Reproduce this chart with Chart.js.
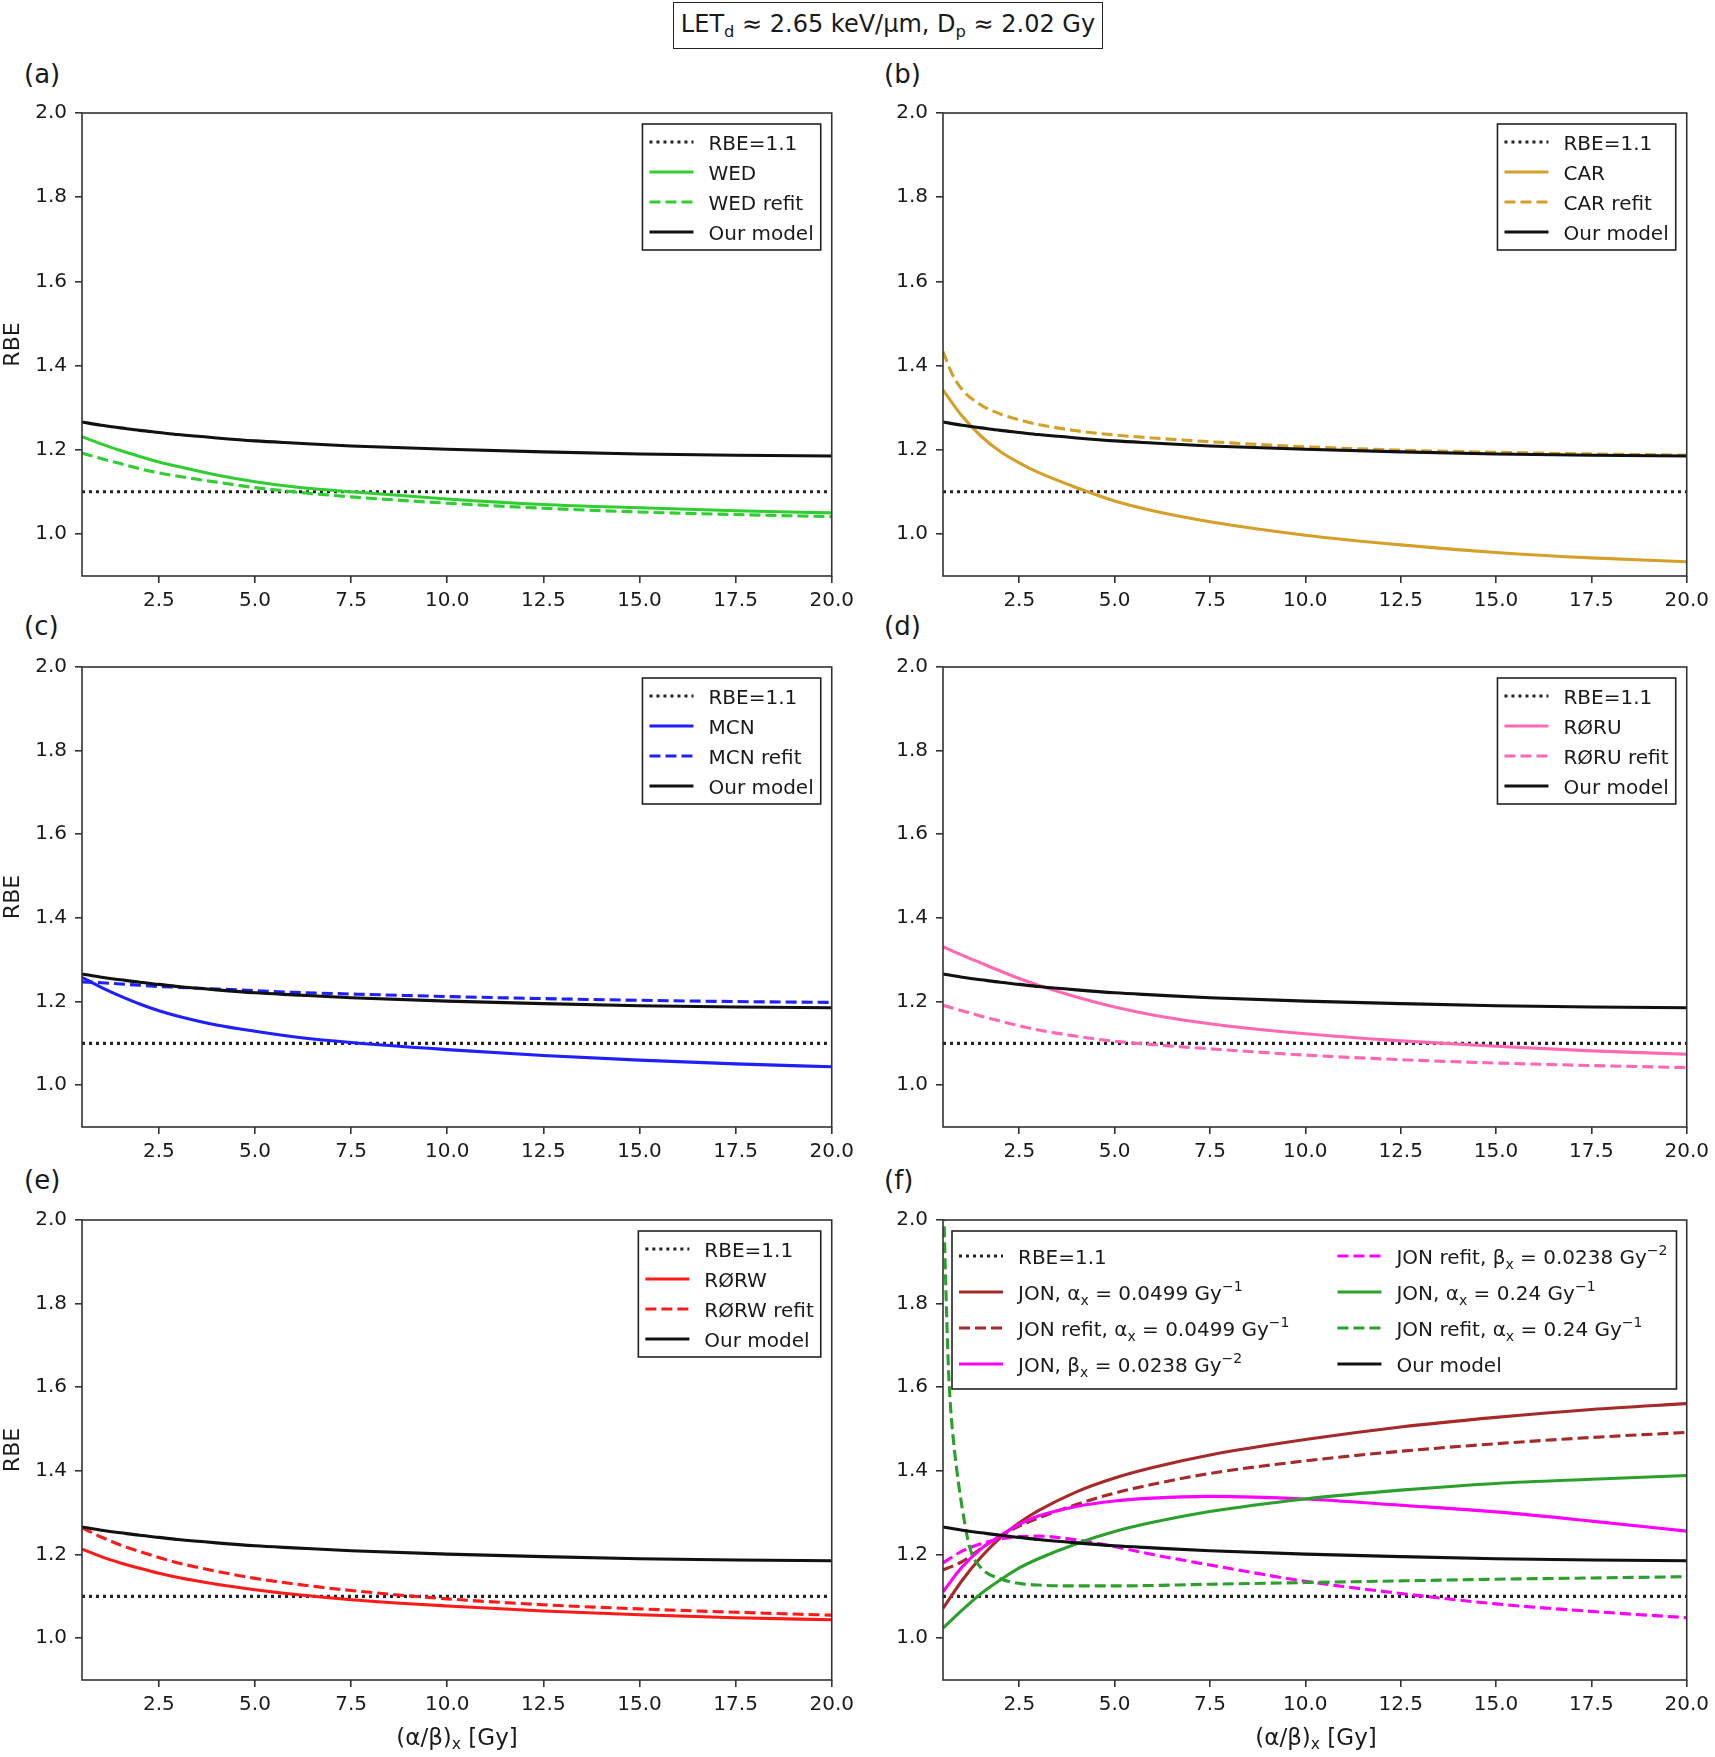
<!DOCTYPE html>
<html>
<head>
<meta charset="utf-8">
<script src="https://cdn.jsdelivr.net/npm/chart.js@4.4.0/dist/chart.umd.min.js"></script>
<style>
  body { margin: 0; background: #fff; width: 1715px; height: 1757px; position: relative; overflow: hidden;
         font-family: 'DejaVu Sans', sans-serif; color: #1a1a1a; }
  canvas { position: absolute; }
  .tag { position: absolute; font-size: 26px; line-height: 30px; }
  .title-box { position: absolute; left: 673px; top: 2px; width: 430px; height: 47px; box-sizing: border-box;
               border: 1.6px solid #222; font-size: 24px; line-height: 43px; text-align: center; white-space: nowrap; }
  .xlabel { position: absolute; top: 1722px; width: 300px; margin-left: -150px; text-align: center; font-size: 23px; line-height: 30px; }
  sub { font-size: 0.68em; vertical-align: -0.28em; line-height: 0; }
</style>
</head>
<body>

<div class="title-box">LET<sub>d</sub> ≈ 2.65 keV/μm, D<sub>p</sub> ≈ 2.02 Gy</div>

<div class="tag" style="left:24px; top:59px">(a)</div>
<div class="tag" style="left:884px; top:59px">(b)</div>
<div class="tag" style="left:24px; top:611px">(c)</div>
<div class="tag" style="left:884px; top:611px">(d)</div>
<div class="tag" style="left:24px; top:1165px">(e)</div>
<div class="tag" style="left:884px; top:1165px">(f)</div>

<canvas id="pa"></canvas>
<canvas id="pb"></canvas>
<canvas id="pc"></canvas>
<canvas id="pd"></canvas>
<canvas id="pe"></canvas>
<canvas id="pf"></canvas>

<div class="xlabel" style="left:457px">(α/β)<sub>x</sub> [Gy]</div>
<div class="xlabel" style="left:1316px">(α/β)<sub>x</sub> [Gy]</div>

<script>
// ---- data ----
const xTicks = [2.5, 5, 7.5, 10, 12.5, 15, 17.5, 20];
const yTicks = [1.0, 1.2, 1.4, 1.6, 1.8, 2.0];

const abX = [0.5, 1, 1.5, 2, 2.5, 3, 4, 5, 6, 7.5, 10, 12.5, 15, 17.5, 20];
const refX = [0.5, 20];
const refY = [1.1, 1.1];

const ourModel   = [1.266, 1.258, 1.252, 1.246, 1.241, 1.236, 1.228, 1.221, 1.216, 1.209, 1.201, 1.195, 1.190, 1.187, 1.185];

const wed        = [1.231, 1.214, 1.198, 1.184, 1.171, 1.160, 1.140, 1.124, 1.112, 1.100, 1.083, 1.070, 1.062, 1.055, 1.050];
const wedRefit   = [1.192, 1.179, 1.167, 1.155, 1.145, 1.137, 1.123, 1.110, 1.100, 1.088, 1.073, 1.061, 1.052, 1.046, 1.041];

const carX       = [0.5, 0.75, 1, 1.5, 2, 2.5, 3, 4, 5, 6, 7.5, 10, 12.5, 15, 17.5, 20];
const car        = [1.342, 1.310, 1.280, 1.232, 1.196, 1.169, 1.146, 1.110, 1.078, 1.055, 1.029, 0.997, 0.974, 0.956, 0.943, 0.934];
const carRefitX  = [0.5, 0.75, 1, 1.5, 2, 2.5, 3, 4, 5, 6, 7.5, 10, 12.5, 15, 17.5, 20];
const carRefit   = [1.433, 1.378, 1.343, 1.306, 1.285, 1.271, 1.260, 1.245, 1.235, 1.228, 1.219, 1.207, 1.199, 1.194, 1.190, 1.187];

const mcn        = [1.258, 1.234, 1.213, 1.194, 1.178, 1.165, 1.144, 1.129, 1.116, 1.102, 1.085, 1.071, 1.060, 1.051, 1.044];
const mcnRefit   = [1.247, 1.245, 1.242, 1.239, 1.236, 1.234, 1.230, 1.226, 1.222, 1.218, 1.212, 1.207, 1.203, 1.200, 1.198];

const roru       = [1.331, 1.311, 1.292, 1.273, 1.255, 1.239, 1.211, 1.187, 1.168, 1.147, 1.123, 1.106, 1.093, 1.082, 1.074];
const roruRefit  = [1.191, 1.178, 1.165, 1.153, 1.142, 1.132, 1.117, 1.105, 1.097, 1.087, 1.072, 1.061, 1.053, 1.047, 1.042];

const rorw       = [1.213, 1.195, 1.180, 1.167, 1.155, 1.145, 1.129, 1.116, 1.105, 1.092, 1.077, 1.065, 1.056, 1.049, 1.044];
const rorwRefit  = [1.264, 1.242, 1.223, 1.207, 1.193, 1.180, 1.160, 1.143, 1.130, 1.114, 1.094, 1.080, 1.070, 1.062, 1.055];

const jonA1      = [1.071, 1.138, 1.194, 1.240, 1.276, 1.305, 1.350, 1.383, 1.408, 1.438, 1.475, 1.505, 1.528, 1.547, 1.561];
const jonA1Refit = [1.163, 1.183, 1.215, 1.245, 1.268, 1.287, 1.320, 1.347, 1.368, 1.394, 1.424, 1.447, 1.465, 1.480, 1.492];
const jonB       = [1.111, 1.170, 1.214, 1.245, 1.272, 1.292, 1.315, 1.328, 1.335, 1.339, 1.333, 1.318, 1.302, 1.280, 1.256];
const jonBRefit  = [1.180, 1.208, 1.226, 1.237, 1.243, 1.244, 1.235, 1.219, 1.200, 1.175, 1.136, 1.107, 1.082, 1.064, 1.049];
const jonA2      = [1.024, 1.067, 1.107, 1.139, 1.168, 1.190, 1.226, 1.255, 1.277, 1.303, 1.333, 1.354, 1.370, 1.380, 1.389];
const jonA2RefitX = [0.5, 0.55, 0.6, 0.65, 0.7, 0.8, 0.9, 1, 1.2, 1.5, 2, 2.5, 3, 4, 5, 7.5, 10, 12.5, 15, 17.5, 20];
const jonA2Refit  = [2.10, 1.92, 1.76, 1.63, 1.55, 1.45, 1.375, 1.313, 1.217, 1.168, 1.142, 1.131, 1.127, 1.125, 1.125, 1.129, 1.133, 1.137, 1.141, 1.144, 1.147];

// ---- styling ----
const FONT_FAMILY = "'DejaVu Sans', sans-serif";
const LW = 3.1;
const DASH = [11, 5];
const DOT = [3, 4];
const AXIS_COLOR = '#333';
const TEXT_COLOR = '#1a1a1a';

function series(label, xs, ys, color, dash) {
  return {
    label: label,
    data: xs.map((x, i) => ({ x: x, y: ys[i] })),
    borderColor: color,
    borderDash: dash || [],
    borderWidth: LW,
    pointRadius: 0,
    fill: false
  };
}
const refLine = () => series('RBE=1.1', refX, refY, '#222', DOT);
const ourLine = () => series('Our model', abX, ourModel, '#111');

// "α_{x}" -> subscript, "Gy^{−1}" -> superscript
function parseRich(s) {
  const parts = [];
  const re = /([_^])\{([^}]*)\}/g;
  let last = 0, m;
  while ((m = re.exec(s))) {
    if (m.index > last) parts.push({ t: s.slice(last, m.index), k: 'n' });
    parts.push({ t: m[2], k: m[1] === '_' ? 'sub' : 'sup' });
    last = re.lastIndex;
  }
  if (last < s.length) parts.push({ t: s.slice(last), k: 'n' });
  return parts;
}
function richWidth(ctx, parts, size) {
  let w = 0;
  parts.forEach(p => {
    ctx.font = (p.k === 'n' ? size : Math.round(size * 0.7)) + 'px ' + FONT_FAMILY;
    w += ctx.measureText(p.t).width;
  });
  return w;
}
function drawRich(ctx, parts, x, y, size) {
  parts.forEach(p => {
    const s = p.k === 'n' ? size : Math.round(size * 0.7);
    ctx.font = s + 'px ' + FONT_FAMILY;
    const dy = p.k === 'sub' ? size * 0.25 : (p.k === 'sup' ? -size * 0.42 : 0);
    ctx.fillText(p.t, x, y + dy);
    x += ctx.measureText(p.t).width;
  });
}

// matplotlib-like framed legend inside the axes
const boxLegend = {
  id: 'boxLegend',
  afterDatasetsDraw(chart, args, opts) {
    const ctx = chart.ctx, area = chart.chartArea;
    const sets = chart.data.datasets;
    const cols = opts.cols || 1;
    const rows = Math.ceil(sets.length / cols);
    const size = 20, pad = 7, handle = 44, hgap = 15, colGap = opts.colGap || 40;
    const colW = [];
    for (let c = 0; c < cols; c++) {
      let w = 0;
      for (let r = 0; r < rows; r++) {
        const d = sets[c * rows + r];
        if (d) w = Math.max(w, richWidth(ctx, parseRich(d.label), size));
      }
      colW.push(w);
    }
    const width = pad * 2 + (opts.padR || 0) + colW.reduce((a, w) => a + handle + hgap + w, 0) + colGap * (cols - 1);
    const height = opts.edge * 2 + (rows - 1) * opts.rowH;
    const left = opts.anchor === 'left' ? area.left + opts.dx : area.right - opts.dx - width;
    const top = area.top + opts.dy;

    ctx.save();
    ctx.fillStyle = 'rgba(255,255,255,0.9)';
    ctx.fillRect(left, top, width, height);
    ctx.strokeStyle = '#222';
    ctx.lineWidth = 1.6;
    ctx.strokeRect(left, top, width, height);

    let cx = left + pad;
    for (let c = 0; c < cols; c++) {
      for (let r = 0; r < rows; r++) {
        const d = sets[c * rows + r];
        if (!d) continue;
        const cy = top + opts.edge + r * opts.rowH;
        ctx.beginPath();
        ctx.setLineDash(d.borderDash);
        ctx.strokeStyle = d.borderColor;
        ctx.lineWidth = LW;
        ctx.moveTo(cx, cy);
        ctx.lineTo(cx + handle, cy);
        ctx.stroke();
        ctx.setLineDash([]);
        ctx.fillStyle = TEXT_COLOR;
        ctx.textBaseline = 'alphabetic';
        ctx.textAlign = 'left';
        drawRich(ctx, parseRich(d.label), cx + handle + hgap, cy + 7.5, size);
      }
      cx += handle + hgap + colW[c] + colGap;
    }
    ctx.restore();
  }
};

// all four spines
const frame = {
  id: 'frame',
  afterDraw(chart) {
    const ctx = chart.ctx, a = chart.chartArea;
    ctx.save();
    ctx.strokeStyle = AXIS_COLOR;
    ctx.lineWidth = 1.6;
    ctx.strokeRect(a.left, a.top, a.right - a.left, a.bottom - a.top);
    ctx.restore();
  }
};

// geometry in page pixels
const COLS = [ { cx: 0, cw: 860, L: 82, R: 832 }, { cx: 860, cw: 855, L: 943, R: 1690 } ];
const ROWS = [ { cy: 60, ch: 560, T: 113, B: 576 }, { cy: 620, ch: 555, T: 667, B: 1127 }, { cy: 1175, ch: 582, T: 1220, B: 1680 } ];

function makePanel(id, col, row, datasets, legendOpts, yTitle) {
  const c = COLS[col], r = ROWS[row];
  const cv = document.getElementById(id);
  cv.width = c.cw; cv.height = r.ch;
  cv.style.left = c.cx + 'px'; cv.style.top = r.cy + 'px';
  cv.style.width = c.cw + 'px'; cv.style.height = r.ch + 'px';

  // later series drawn on top, like the original plot order
  const n = datasets.length;
  datasets.forEach((d, i) => { d.order = n - i; });

  const tickFont = { family: FONT_FAMILY, size: 20 };
  new Chart(cv, {
    type: 'line',
    data: { datasets: datasets },
    options: {
      responsive: false,
      animation: false,
      devicePixelRatio: 1,
      layout: { autoPadding: false, padding: { left: 0, bottom: 0, top: r.T - r.cy, right: c.cx + c.cw - c.R } },
      plugins: { legend: { display: false }, tooltip: { enabled: false }, boxLegend: legendOpts },
      elements: { line: { cubicInterpolationMode: 'monotone' }, point: { radius: 0 } },
      scales: {
        x: {
          type: 'linear', min: 0.5, max: 20,
          afterBuildTicks: s => { s.ticks = xTicks.map(v => ({ value: v })); },
          afterFit: s => { s.height = r.cy + r.ch - r.B; },
          ticks: { font: tickFont, color: TEXT_COLOR, padding: 6, maxRotation: 0, autoSkip: false,
                   callback: v => Number(v).toFixed(1) },
          grid: { drawOnChartArea: false, drawTicks: true, tickLength: 7, color: AXIS_COLOR, lineWidth: 1.6 },
          border: { display: false }
        },
        y: {
          type: 'linear', min: 0.9, max: 2.0,
          afterBuildTicks: s => { s.ticks = yTicks.map(v => ({ value: v })); },
          afterFit: s => { s.width = c.L - c.cx; },
          ticks: { font: tickFont, color: TEXT_COLOR, padding: 8, autoSkip: false,
                   callback: v => Number(v).toFixed(1) },
          grid: { drawOnChartArea: false, drawTicks: true, tickLength: 7, color: AXIS_COLOR, lineWidth: 1.6 },
          border: { display: false },
          title: { display: !!yTitle, text: 'RBE', color: TEXT_COLOR, padding: 0,
                   font: { family: FONT_FAMILY, size: 22 } }
        }
      }
    },
    plugins: [boxLegend, frame]
  });
}

const legend4 = { cols: 1, anchor: 'right', dx: 11, dy: 11, edge: 18, rowH: 30 };

makePanel('pa', 0, 0, [
  refLine(),
  series('WED', abX, wed, '#32CD32'),
  series('WED refit', abX, wedRefit, '#32CD32', DASH),
  ourLine()
], legend4, true);

makePanel('pb', 1, 0, [
  refLine(),
  series('CAR', carX, car, '#D4A02A'),
  series('CAR refit', carRefitX, carRefit, '#D4A02A', DASH),
  ourLine()
], legend4, false);

makePanel('pc', 0, 1, [
  refLine(),
  series('MCN', abX, mcn, '#1f1fff'),
  series('MCN refit', abX, mcnRefit, '#1f1fff', DASH),
  ourLine()
], legend4, true);

makePanel('pd', 1, 1, [
  refLine(),
  series('RØRU', abX, roru, '#FF69B4'),
  series('RØRU refit', abX, roruRefit, '#FF69B4', DASH),
  ourLine()
], legend4, false);

makePanel('pe', 0, 2, [
  refLine(),
  series('RØRW', abX, rorw, '#FF1a1a'),
  series('RØRW refit', abX, rorwRefit, '#FF1a1a', DASH),
  ourLine()
], legend4, true);

makePanel('pf', 1, 2, [
  refLine(),
  series('JON, α_{x} = 0.0499 Gy^{−1}', abX, jonA1, '#A52A2A'),
  series('JON refit, α_{x} = 0.0499 Gy^{−1}', abX, jonA1Refit, '#A52A2A', DASH),
  series('JON, β_{x} = 0.0238 Gy^{−2}', abX, jonB, '#FF00FF'),
  series('JON refit, β_{x} = 0.0238 Gy^{−2}', abX, jonBRefit, '#FF00FF', DASH),
  series('JON, α_{x} = 0.24 Gy^{−1}', abX, jonA2, '#2CA02C'),
  series('JON refit, α_{x} = 0.24 Gy^{−1}', jonA2RefitX, jonA2Refit, '#2CA02C', DASH),
  ourLine()
], { cols: 2, anchor: 'left', dx: 9, dy: 11, edge: 25, rowH: 36, colGap: 48, padR: 2 }, false);
</script>
</body>
</html>
